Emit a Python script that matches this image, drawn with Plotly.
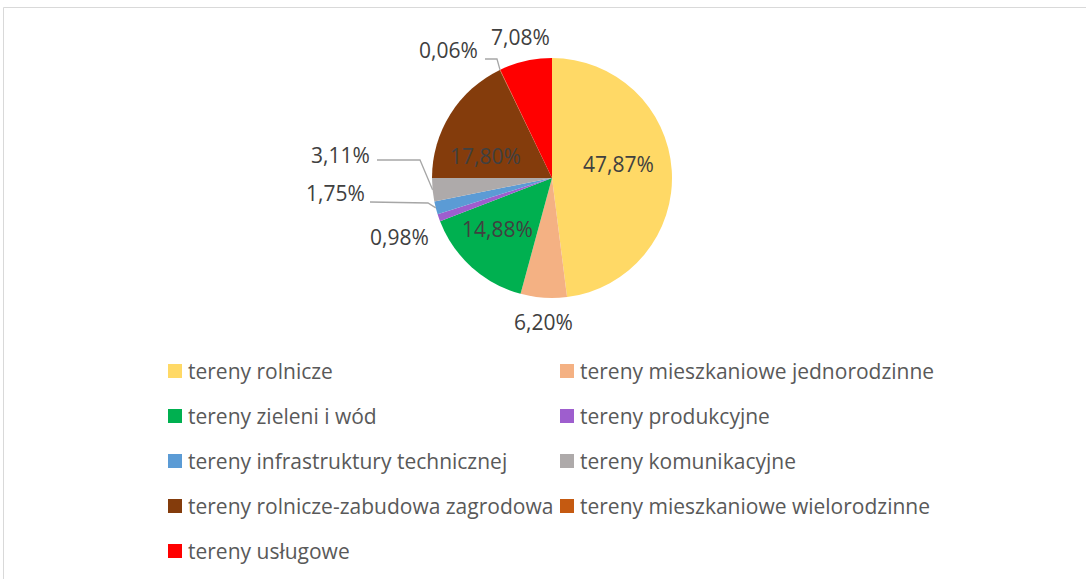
import math
import plotly.graph_objects as go

categories = [
    "tereny rolnicze",
    "tereny mieszkaniowe jednorodzinne",
    "tereny zieleni i wód",
    "tereny produkcyjne",
    "tereny infrastruktury technicznej",
    "tereny komunikacyjne",
    "tereny rolnicze-zabudowa zagrodowa",
    "tereny mieszkaniowe wielorodzinne",
    "tereny usługowe",
]
values = [47.87, 6.20, 14.88, 0.98, 1.75, 3.11, 17.80, 0.06, 7.08]
colors = ["#FFD966", "#F4B183", "#00B050", "#9E5ECE", "#5B9BD5",
          "#AEAAAA", "#843C0C", "#C55A11", "#FF0000"]

W, H = 1086, 579
CX, CY, R = 552, 178, 120
FONT = "Open Sans"
FS = 21

def fmt(v):
    return f"{v:.2f}%".replace(".", ",")

labels_text = [fmt(v) for v in values]

def px(x):
    return x / W

def py(y):
    return 1 - y / H

fig = go.Figure()
fig.add_trace(go.Pie(
    labels=categories,
    values=values,
    textinfo="none",
    marker=dict(colors=colors, line=dict(width=0)),
    sort=False,
    direction="clockwise",
    rotation=0,
    showlegend=False,
    hoverinfo="label+percent",
    domain=dict(x=[px(CX - R), px(CX + R)], y=[py(CY + R), py(CY - R)]),
))

# data label placement: index -> (label center px, leader elbow points px or None)
label_pos = {
    0: ((618, 164), None),
    1: ((543, 322), None),
    2: ((497, 229), None),
    3: ((399, 237), None),
    4: ((335, 193), [(370, 202), (428, 203)]),
    5: ((340, 155), [(377, 160), (420, 160)]),
    6: ((485, 156), None),
    7: ((448, 50), [(485, 59), (497, 59)]),
    8: ((520, 37), None),
}

total = sum(values)
cum = 0
mids = []
for v in values:
    mids.append((cum + v / 2) / total * 2 * math.pi)
    cum += v

annotations = []
shapes = []
for i, ((lx, ly), elbow) in label_pos.items():
    annotations.append(dict(
        x=px(lx), y=py(ly), xref="paper", yref="paper",
        text=labels_text[i], showarrow=False,
        font=dict(family=FONT, size=FS, color="#404040"),
        xanchor="center", yanchor="middle",
    ))
    if elbow:
        a = mids[i]
        ex = CX + R * math.sin(a)
        ey = CY - R * math.cos(a)
        pts = elbow + [(ex, ey)]
        path = "M " + " L ".join(f"{px(x)},{py(y)}" for x, y in pts)
        shapes.append(dict(type="path", xref="paper", yref="paper", path=path,
                           line=dict(color="#A6A6A6", width=1.3)))

# manual legend, two columns
col_x = [168, 560]
row_y0, row_dy = 371, 45
sq = 14
for i, (cat, col) in enumerate(zip(categories, colors)):
    c = i % 2
    r = i // 2
    x = col_x[c]
    y = row_y0 + r * row_dy
    shapes.append(dict(type="rect", xref="paper", yref="paper",
                       x0=px(x), x1=px(x + sq), y0=py(y + sq / 2), y1=py(y - sq / 2),
                       fillcolor=col, line=dict(width=0)))
    annotations.append(dict(
        x=px(x + sq + 4), y=py(y), xref="paper", yref="paper",
        text=cat, showarrow=False, xanchor="left", yanchor="middle",
        font=dict(family=FONT, size=FS, color="#595959"),
    ))

# chart border
shapes.append(dict(type="rect", xref="paper", yref="paper",
                   x0=px(3.5), x1=px(W + 5), y0=py(H + 5), y1=py(7.5),
                   line=dict(color="#D9D9D9", width=1), fillcolor="rgba(0,0,0,0)"))

fig.update_layout(
    width=W, height=H,
    margin=dict(l=0, r=0, t=0, b=0),
    paper_bgcolor="white",
    plot_bgcolor="white",
    annotations=annotations,
    shapes=shapes,
    font=dict(family=FONT, size=FS, color="#595959"),
)

fig.write_html("out.html", config={"displayModeBar": False},
               post_script="document.body.style.margin='0';document.body.style.overflow='hidden';")
